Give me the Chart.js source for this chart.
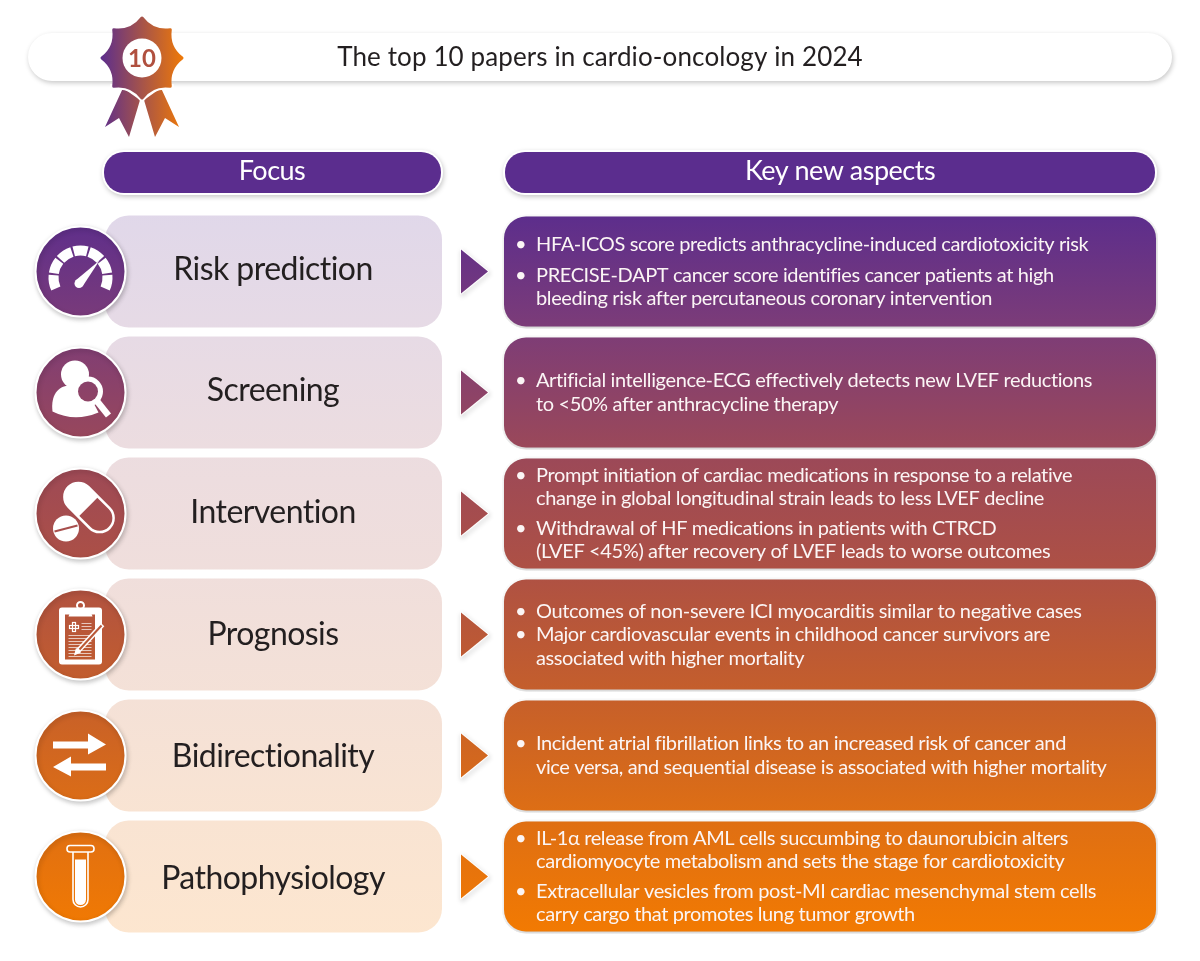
<!DOCTYPE html>
<html>
<head>
<meta charset="utf-8">
<title>The top 10 papers in cardio-oncology in 2024</title>
<script src="https://cdn.jsdelivr.net/npm/chart.js@4/dist/chart.umd.min.js"></script>
<style>
  html, body { margin: 0; padding: 0; background: #fff; }
  canvas { display: block; }
</style>
</head>
<body>
<canvas id="topTenChart" width="1200" height="961"></canvas>
<script>
const chartTitle = 'The top 10 papers in cardio-oncology in 2024';
const medalLabel = '10';
const columnHeaders = ['Focus', 'Key new aspects'];
const focusAreas = ['Risk prediction', 'Screening', 'Intervention', 'Prognosis', 'Bidirectionality', 'Pathophysiology'];

const riskPoints = [
  ['HFA-ICOS score predicts anthracycline-induced cardiotoxicity risk'],
  ['PRECISE-DAPT cancer score identifies cancer patients at high', 'bleeding risk after percutaneous coronary intervention']
];
const screeningPoints = [
  ['Artificial intelligence-ECG effectively detects new LVEF reductions', 'to <50% after anthracycline therapy']
];
const interventionPoints = [
  ['Prompt initiation of cardiac medications in response to a relative', 'change in global longitudinal strain leads to less LVEF decline'],
  ['Withdrawal of HF medications in patients with CTRCD', '(LVEF <45%) after recovery of LVEF leads to worse outcomes']
];
const prognosisPoints = [
  ['Outcomes of non-severe ICI myocarditis similar to negative cases'],
  ['Major cardiovascular events in childhood cancer survivors are', 'associated with higher mortality']
];
const bidirectionalPoints = [
  ['Incident atrial fibrillation links to an increased risk of cancer and', 'vice versa, and sequential disease is associated with higher mortality']
];
const pathoPoints = [
  ['IL-1\u03b1 release from AML cells succumbing to daunorubicin alters', 'cardiomyocyte metabolism and sets the stage for cardiotoxicity'],
  ['Extracellular vesicles from post-MI cardiac mesenchymal stem cells', 'carry cargo that promotes lung tumor growth']
];
const allPoints = [riskPoints, screeningPoints, interventionPoints, prognosisPoints, bidirectionalPoints, pathoPoints];

// layout, in canvas px (the x scale runs 0-1200)
const focusSpan = [105, 442];
const aspectSpan = [502, 1158];
const headerSpans = [[104, 441], [505, 1155]];
const iconX = 80.5;
const bulletGaps = [7, 0, 6, 0, 0, 6];
const FONT = 'Lato, "Open Sans", sans-serif';

const gradStops = [
  [0, '#5d2e8c'], [0.155, '#7c3c78'], [0.32, '#9a485a'], [0.49, '#ad5045'],
  [0.66, '#c45e2c'], [0.83, '#dd6e15'], [1, '#f27a02']
];
let darkGrad = null, lightGrad = null;
function buildGrad(ctx, suffix, shift) {
  const g = ctx.createLinearGradient(0, 217 - shift, 0, 932 - shift);
  gradStops.forEach(s => g.addColorStop(s[0], s[1] + suffix));
  return g;
}
function dark(c) { return darkGrad || (darkGrad = buildGrad(c.chart.ctx, '', 0)); }
function light(c) { return lightGrad || (lightGrad = buildGrad(c.chart.ctx, '30', 0)); }

function shadow(ctx, on) {
  ctx.shadowColor = on ? 'rgba(0,0,0,0.22)' : 'transparent';
  ctx.shadowBlur = on ? 5 : 0;
  ctx.shadowOffsetX = on ? 1 : 0;
  ctx.shadowOffsetY = on ? 2 : 0;
}

function starPath(ctx, cx, cy) {
  ctx.beginPath();
  for (let i = 0; i < 8; i++) {
    const a = -Math.PI / 2 + i * Math.PI / 4;
    const b = a + Math.PI / 8;
    const c = a + Math.PI / 4;
    if (i === 0) ctx.moveTo(cx + 40 * Math.cos(a), cy + 40 * Math.sin(a));
    ctx.quadraticCurveTo(cx + 28 * Math.cos(b), cy + 28 * Math.sin(b), cx + 40 * Math.cos(c), cy + 40 * Math.sin(c));
  }
  ctx.closePath();
}

function drawMedal(ctx) {
  const cx = 142, cy = 58;
  const g = ctx.createLinearGradient(100, 0, 184, 0);
  g.addColorStop(0, '#5b2d8e');
  g.addColorStop(1, '#f07a06');
  ctx.save();
  ctx.fillStyle = g;
  ctx.lineJoin = 'round';
  [1, -1].forEach(side => {
    ctx.beginPath();
    ctx.moveTo(142 - side * 19, 88);
    ctx.lineTo(142 - side * 37, 127);
    ctx.lineTo(142 - side * 23, 118);
    ctx.lineTo(142 - side * 13, 137);
    ctx.lineTo(142 - side * 2, 100);
    ctx.closePath();
    ctx.fill();
  });
  // white edge where the star sits on the ribbons
  ctx.save();
  ctx.beginPath();
  ctx.rect(100, 84, 84, 30);
  ctx.clip();
  ctx.strokeStyle = '#fff';
  ctx.lineWidth = 7;
  starPath(ctx, cx, cy);
  ctx.stroke();
  ctx.restore();
  ctx.strokeStyle = g;
  ctx.lineWidth = 3;
  starPath(ctx, cx, cy);
  ctx.fill();
  ctx.stroke();
  ctx.fillStyle = '#fff';
  ctx.beginPath();
  ctx.arc(cx, cy, 19.5, 0, Math.PI * 2);
  ctx.fill();
  ctx.restore();
}

// white pictograms, drawn relative to the centre of each icon disc
const icons = [
  function gauge(ctx) {
    ctx.lineWidth = 10;
    const start = 154, seg = 232 / 7;
    for (let i = 0; i < 7; i++) {
      const a0 = (start + i * seg + 2) * Math.PI / 180;
      const a1 = (start + (i + 1) * seg - 2) * Math.PI / 180;
      ctx.beginPath();
      ctx.arc(0, 6, 27, a0, a1);
      ctx.stroke();
    }
    ctx.beginPath();
    ctx.moveTo(19, -11);
    ctx.lineTo(-5, 9);
    ctx.lineTo(2, 15);
    ctx.closePath();
    ctx.fill();
    ctx.beginPath();
    ctx.arc(-1.5, 12, 4.5, 0, Math.PI * 2);
    ctx.fill();
  },
  function person(ctx, fill) {
    ctx.beginPath();
    ctx.arc(-5.5, -18, 14, 0, Math.PI * 2);
    ctx.fill();
    ctx.beginPath();
    ctx.moveTo(-28, 19);
    ctx.bezierCurveTo(-30, 2, -22, -6, -12, -7);
    ctx.lineTo(4, -7);
    ctx.lineTo(18, 20);
    ctx.quadraticCurveTo(-6, 30, -28, 19);
    ctx.fill();
    ctx.lineWidth = 6.5;
    ctx.beginPath();
    ctx.moveTo(16, 8);
    ctx.lineTo(28, 23);
    ctx.stroke();
    ctx.beginPath();
    ctx.arc(7.5, -1, 15, 0, Math.PI * 2);
    ctx.fill();
    ctx.fillStyle = fill;
    ctx.beginPath();
    ctx.arc(7.5, -1, 10, 0, Math.PI * 2);
    ctx.fill();
  },
  function pills(ctx, fill) {
    ctx.save();
    ctx.translate(8.5, -6);
    ctx.rotate(Math.PI / 4);
    ctx.lineWidth = 2.5;
    ctx.beginPath();
    ctx.roundRect(-29, -14, 58, 28, 14);
    ctx.stroke();
    ctx.save();
    ctx.clip();
    ctx.fillRect(-30, -15, 29, 30);
    ctx.restore();
    ctx.restore();
    ctx.beginPath();
    ctx.arc(-14.5, 15, 13, 0, Math.PI * 2);
    ctx.fill();
    ctx.strokeStyle = fill;
    ctx.lineWidth = 2;
    ctx.beginPath();
    ctx.moveTo(-26, 18);
    ctx.lineTo(-3, 12);
    ctx.stroke();
  },
  function clipboard(ctx, fill) {
    ctx.beginPath();
    ctx.roundRect(-21.5, -27, 43, 57, 3);
    ctx.fill();
    ctx.fillStyle = fill;
    ctx.fillRect(-15.5, -20, 30, 45);
    ctx.fillStyle = '#fff';
    ctx.beginPath();
    ctx.moveTo(-9, -26);
    ctx.lineTo(9, -26);
    ctx.lineTo(12, -18);
    ctx.lineTo(-12, -18);
    ctx.closePath();
    ctx.fill();
    ctx.lineWidth = 2;
    ctx.beginPath();
    ctx.arc(0, -29, 3.5, 0, Math.PI * 2);
    ctx.stroke();
    ctx.lineWidth = 1.2;
    ctx.strokeRect(-11, -9, 9, 3);
    ctx.strokeRect(-8, -12, 3, 9);
    ctx.lineWidth = 0.9;
    ctx.strokeStyle = 'rgba(255,255,255,0.75)';
    [-11, -8, -5].forEach(y => {
      ctx.beginPath(); ctx.moveTo(1, y); ctx.lineTo(11, y); ctx.stroke();
    });
    for (let y = 1; y <= 22; y += 3) {
      ctx.beginPath(); ctx.moveTo(-12, y); ctx.lineTo(11, y); ctx.stroke();
    }
    ctx.strokeStyle = '#fff';
    ctx.lineWidth = 5;
    ctx.beginPath(); ctx.moveTo(-3, 17); ctx.lineTo(22, -10); ctx.stroke();
    ctx.strokeStyle = fill;
    ctx.lineWidth = 2;
    ctx.beginPath(); ctx.moveTo(-1, 15); ctx.lineTo(21, -9); ctx.stroke();
    ctx.fillStyle = '#fff';
    ctx.beginPath();
    ctx.moveTo(-6.5, 21);
    ctx.lineTo(-4.5, 13.5);
    ctx.lineTo(0.5, 18);
    ctx.closePath();
    ctx.fill();
  },
  function arrows(ctx) {
    ctx.beginPath();
    ctx.moveTo(-27.5, -14); ctx.lineTo(7.5, -14); ctx.lineTo(7.5, -22); ctx.lineTo(25.5, -11);
    ctx.lineTo(7.5, -1); ctx.lineTo(7.5, -7); ctx.lineTo(-27.5, -7);
    ctx.closePath();
    ctx.fill();
    ctx.beginPath();
    ctx.moveTo(25.5, 8); ctx.lineTo(-9.5, 8); ctx.lineTo(-9.5, 1); ctx.lineTo(-27.5, 11.5);
    ctx.lineTo(-9.5, 21); ctx.lineTo(-9.5, 15); ctx.lineTo(25.5, 15);
    ctx.closePath();
    ctx.fill();
  },
  function tube(ctx) {
    ctx.lineWidth = 1.6;
    ctx.beginPath();
    ctx.roundRect(-13.5, -31, 27, 6.5, 3);
    ctx.stroke();
    ctx.beginPath();
    ctx.moveTo(-7.5, -24.5);
    ctx.lineTo(-7.5, 23);
    ctx.arc(0, 23, 7.5, Math.PI, 0, true);
    ctx.lineTo(7.5, -24.5);
    ctx.stroke();
    ctx.beginPath();
    ctx.moveTo(-5.5, -17);
    ctx.lineTo(5.5, -17);
    ctx.lineTo(5.5, 23);
    ctx.arc(0, 23, 5.5, 0, Math.PI);
    ctx.closePath();
    ctx.fill();
  }
];

const frameworkPlugin = {
  id: 'framework',
  beforeDatasetsDraw(chart) {
    const ctx = chart.ctx;
    ctx.save();
    // title pill
    shadow(ctx, true);
    ctx.fillStyle = '#fff';
    ctx.beginPath();
    ctx.roundRect(28, 33, 1144, 48, 24);
    ctx.fill();
    shadow(ctx, false);
    // column headers
    headerSpans.forEach(span => {
      shadow(ctx, true);
      ctx.fillStyle = '#fff';
      ctx.beginPath();
      ctx.roundRect(span[0] - 2, 150, span[1] - span[0] + 4, 45, 22);
      ctx.fill();
      shadow(ctx, false);
      ctx.fillStyle = '#5b2d8e';
      ctx.beginPath();
      ctx.roundRect(span[0], 152, span[1] - span[0], 41, 20);
      ctx.fill();
    });
    ctx.restore();
  },
  beforeDatasetDraw(chart, args) {
    shadow(chart.ctx, args.index !== 1);
  },
  afterDatasetDraw(chart) {
    shadow(chart.ctx, false);
  },
  afterDatasetsDraw(chart) {
    const ctx = chart.ctx, y = chart.scales.y;
    const fill = dark({ chart });
    ctx.save();
    drawMedal(ctx);

    ctx.textBaseline = 'alphabetic';
    ctx.textAlign = 'center';
    ctx.fillStyle = '#b0503f';
    ctx.font = 'bold 24px ' + FONT;
    ctx.fillText(medalLabel, 142, 67);

    ctx.fillStyle = '#231f20';
    ctx.font = '26px ' + FONT;
    ctx.letterSpacing = '0.12px';
    ctx.fillText(chartTitle, 600, 66);

    ctx.fillStyle = '#fff';
    ctx.font = '27px ' + FONT;
    ctx.letterSpacing = '-0.5px';
    ctx.fillText(columnHeaders[0], 272, 180);
    ctx.fillText(columnHeaders[1], 840, 180);

    focusAreas.forEach((name, i) => {
      const cy = y.getPixelForValue(i);

      // row arrow
      ctx.save();
      shadow(ctx, true);
      ctx.fillStyle = fill;
      ctx.strokeStyle = '#fff';
      ctx.lineJoin = 'round';
      ctx.lineWidth = 2;
      ctx.beginPath();
      ctx.moveTo(461, cy - 22);
      ctx.lineTo(488, cy);
      ctx.lineTo(461, cy + 22);
      ctx.closePath();
      ctx.stroke();
      shadow(ctx, false);
      ctx.fill();
      ctx.restore();

      // pictogram
      ctx.save();
      ctx.translate(iconX, cy);
      ctx.fillStyle = '#fff';
      ctx.strokeStyle = '#fff';
      icons[i](ctx, buildGrad(ctx, '', cy));
      ctx.restore();

      // focus name
      ctx.fillStyle = '#231f20';
      ctx.textAlign = 'center';
      ctx.font = '32px ' + FONT;
      ctx.letterSpacing = '-0.55px';
      ctx.fillText(name, 273, cy + 8 + i * 0.8);

      // bullet text, centred on the row
      const points = allPoints[i];
      const lineHeight = 23.5;
      const lineCount = points.reduce((n, p) => n + p.length, 0);
      const total = (lineCount - 1) * lineHeight + (points.length - 1) * bulletGaps[i];
      let ly = cy - total / 2;
      ctx.fillStyle = '#fbf5f5';
      ctx.textAlign = 'left';
      ctx.font = '20px ' + FONT;
      ctx.letterSpacing = '-0.38px';
      points.forEach(lines => {
        lines.forEach((line, k) => {
          if (k === 0) ctx.fillText('\u2022', 515, ly + 6.5);
          ctx.fillText(line, 536, ly + 6.5);
          ly += lineHeight;
        });
        ly += bulletGaps[i];
      });
    });
    ctx.restore();
  }
};

new Chart(document.getElementById('topTenChart'), {
  type: 'bar',
  data: {
    labels: focusAreas,
    datasets: [
      {
        label: 'Icon',
        type: 'line',
        indexAxis: 'y',
        data: focusAreas.map(() => iconX),
        showLine: false,
        clip: false,
        pointStyle: 'circle',
        pointRadius: 45,
        pointBorderWidth: 2,
        pointBackgroundColor: dark,
        pointBorderColor: '#fff',
        order: 1
      },
      {
        label: 'Focus',
        data: focusAreas.map(() => focusSpan),
        backgroundColor: light,
        borderWidth: 0,
        borderRadius: 24,
        borderSkipped: false,
        grouped: false,
        barPercentage: 112 / 121,
        categoryPercentage: 1,
        order: 3
      },
      {
        label: 'Key new aspects',
        data: focusAreas.map(() => aspectSpan),
        backgroundColor: dark,
        borderColor: '#fff',
        borderWidth: 2,
        borderRadius: 24,
        borderSkipped: false,
        grouped: false,
        barPercentage: 114 / 121,
        categoryPercentage: 1,
        order: 2
      }
    ]
  },
  options: {
    indexAxis: 'y',
    responsive: false,
    animation: false,
    layout: { autoPadding: false, padding: { top: 211, bottom: 24, left: 0, right: 0 } },
    plugins: { legend: { display: false }, tooltip: { enabled: false } },
    scales: {
      x: { type: 'linear', min: 0, max: 1200, display: false },
      y: { type: 'category', offset: true, display: false }
    }
  },
  plugins: [frameworkPlugin]
});
</script>
</body>
</html>
